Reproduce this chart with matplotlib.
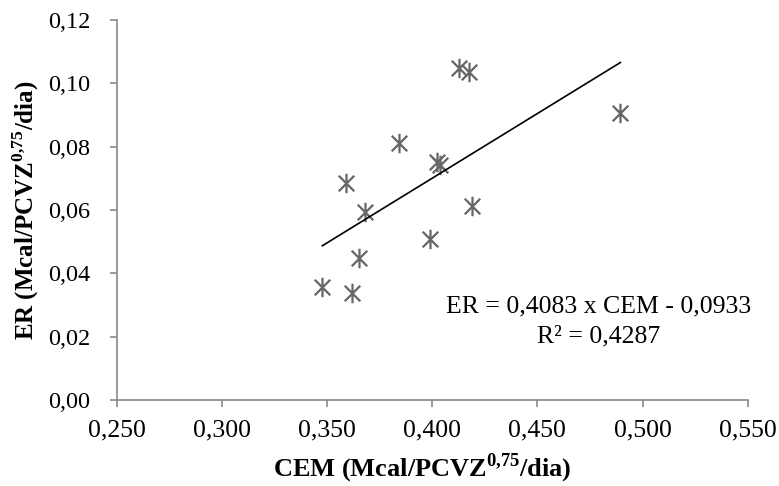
import numpy as np
import matplotlib
matplotlib.use("Agg")
import matplotlib.pyplot as plt
from matplotlib.path import Path
from matplotlib.ticker import FuncFormatter, MultipleLocator

# data
cem = [0.4127, 0.4175, 0.3842, 0.4021, 0.4036, 0.3592, 0.3679,
       0.4189, 0.3988, 0.3651, 0.3478, 0.3619, 0.4895]
er = [0.1048, 0.1034, 0.0811, 0.0752, 0.0743, 0.0685, 0.0595,
      0.0611, 0.0508, 0.0448, 0.0358, 0.0337, 0.0906]

# regression shown on the chart
slope = 0.4083
intercept = -0.0933
r2 = 0.4287

plt.rcParams['font.family'] = ['Liberation Serif', 'DejaVu Serif']
plt.rcParams['mathtext.fontset'] = 'custom'
plt.rcParams['mathtext.rm'] = 'Liberation Serif'
plt.rcParams['mathtext.bf'] = 'Liberation Serif:bold'

# excel-style star marker: X plus vertical bar
star = Path([(0, -1), (0, 1), (-0.8, -0.8), (0.8, 0.8), (-0.8, 0.8), (0.8, -0.8)],
            [Path.MOVETO, Path.LINETO, Path.MOVETO, Path.LINETO, Path.MOVETO, Path.LINETO])

fig = plt.figure(figsize=(7.79, 4.86), dpi=100)
ax = fig.add_axes([0.1498, 0.177, 0.810, 0.782])

ax.plot(cem, er, linestyle='none', marker=star, markersize=14,
        markeredgecolor='#666666', markerfacecolor='none', markeredgewidth=1.6)

xs = np.array([min(cem), max(cem)])
ax.plot(xs, slope * xs + intercept, color='black', linewidth=1.2)

ax.set_xlim(0.25, 0.55)
ax.set_ylim(0, 0.12)
ax.xaxis.set_major_locator(MultipleLocator(0.05))
ax.yaxis.set_major_locator(MultipleLocator(0.02))
ax.xaxis.set_major_formatter(FuncFormatter(lambda v, p: f"{v:.3f}".replace('.', ',')))
ax.yaxis.set_major_formatter(FuncFormatter(lambda v, p: f"{v:.2f}".replace('.', ',')))

for s in ['top', 'right']:
    ax.spines[s].set_visible(False)
for s in ['left', 'bottom']:
    ax.spines[s].set_color('#898989')
    ax.spines[s].set_linewidth(1.2)
ax.tick_params(direction='out', length=5, width=1.2, color='#898989',
               labelsize=18.5)
ax.tick_params(axis='x', pad=9)
ax.tick_params(axis='y', pad=14, labelsize=17.5)

ax.set_xlabel(r"CEM (Mcal/PCVZ$^{\mathbf{0{,}75}}$/dia)", fontsize=19,
              fontweight='bold', labelpad=6)
ax.xaxis.set_label_coords(0.485, -0.135)
ax.set_ylabel(r"ER (Mcal/PCVZ$^{\mathbf{0{,}75}}$/dia)", fontsize=18,
              fontweight='bold', labelpad=5)

ax.text(0.763, 0.247, f"ER = {slope:.4f} x CEM - {abs(intercept):.4f}".replace('.', ','),
        transform=ax.transAxes, ha='center', va='center', fontsize=18.5)
ax.text(0.763, 0.166, f"R² = {r2:.4f}".replace('.', ','),
        transform=ax.transAxes, ha='center', va='center', fontsize=18.5)

fig.savefig("out.png", dpi=100)
